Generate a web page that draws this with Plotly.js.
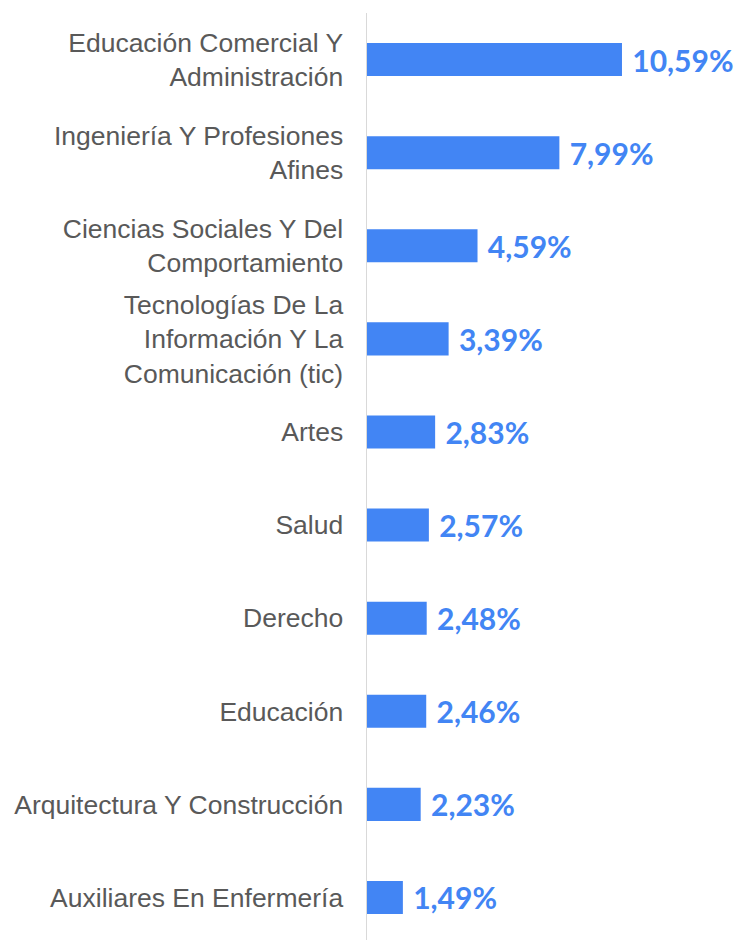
<!DOCTYPE html>
<html>
<head>
<meta charset="utf-8">
<script src="https://cdn.plot.ly/plotly-3.0.1.min.js"></script>
<style>html,body{margin:0;padding:0;background:#fff;}#chart{width:739px;height:940px;}</style>
</head>
<body>
<div id="chart"></div>
<script>
const categories = [
  "Educación Comercial Y<br>Administración",
  "Ingeniería Y Profesiones<br>Afines",
  "Ciencias Sociales Y Del<br>Comportamiento",
  "Tecnologías De La<br>Información Y La<br>Comunicación (tic)",
  "Artes",
  "Salud",
  "Derecho",
  "Educación",
  "Arquitectura Y Construcción",
  "Auxiliares En Enfermería"
];
const values = [10.59, 7.99, 4.59, 3.39, 2.83, 2.57, 2.48, 2.46, 2.23, 1.49];
const labels = values.map(v => " " + v.toFixed(2).replace(".", ",") + "%");

const trace = {
  type: "bar",
  orientation: "h",
  x: values,
  y: categories,
  text: labels,
  textposition: "outside",
  constraintext: "none",
  cliponaxis: false,
  width: 0.355,
  marker: {color: "#4285F4"},
  textfont: {family: "Lato, sans-serif", size: 30, color: "#4285F4", weight: 700},
  hoverinfo: "none"
};

const layout = {
  width: 739,
  height: 940,
  margin: {l: 367, r: 0, t: 13, b: 0, pad: 0},
  paper_bgcolor: "#ffffff",
  plot_bgcolor: "#ffffff",
  showlegend: false,
  xaxis: {
    range: [0, 15.45],
    showgrid: false,
    zeroline: false,
    showline: false,
    showticklabels: false,
    ticks: ""
  },
  yaxis: {
    type: "category",
    range: [9.457, -0.5],
    showgrid: false,
    zeroline: false,
    showline: true,
    linecolor: "#d9d9d9",
    linewidth: 1.5,
    ticks: "",
    ticklabelstandoff: 17,
    tickfont: {family: "Liberation Sans, Arial, sans-serif", size: 26.5, color: "#595959"}
  }
};

Plotly.newPlot("chart", [trace], layout, {staticPlot: true, displayModeBar: false});
</script>
</body>
</html>
